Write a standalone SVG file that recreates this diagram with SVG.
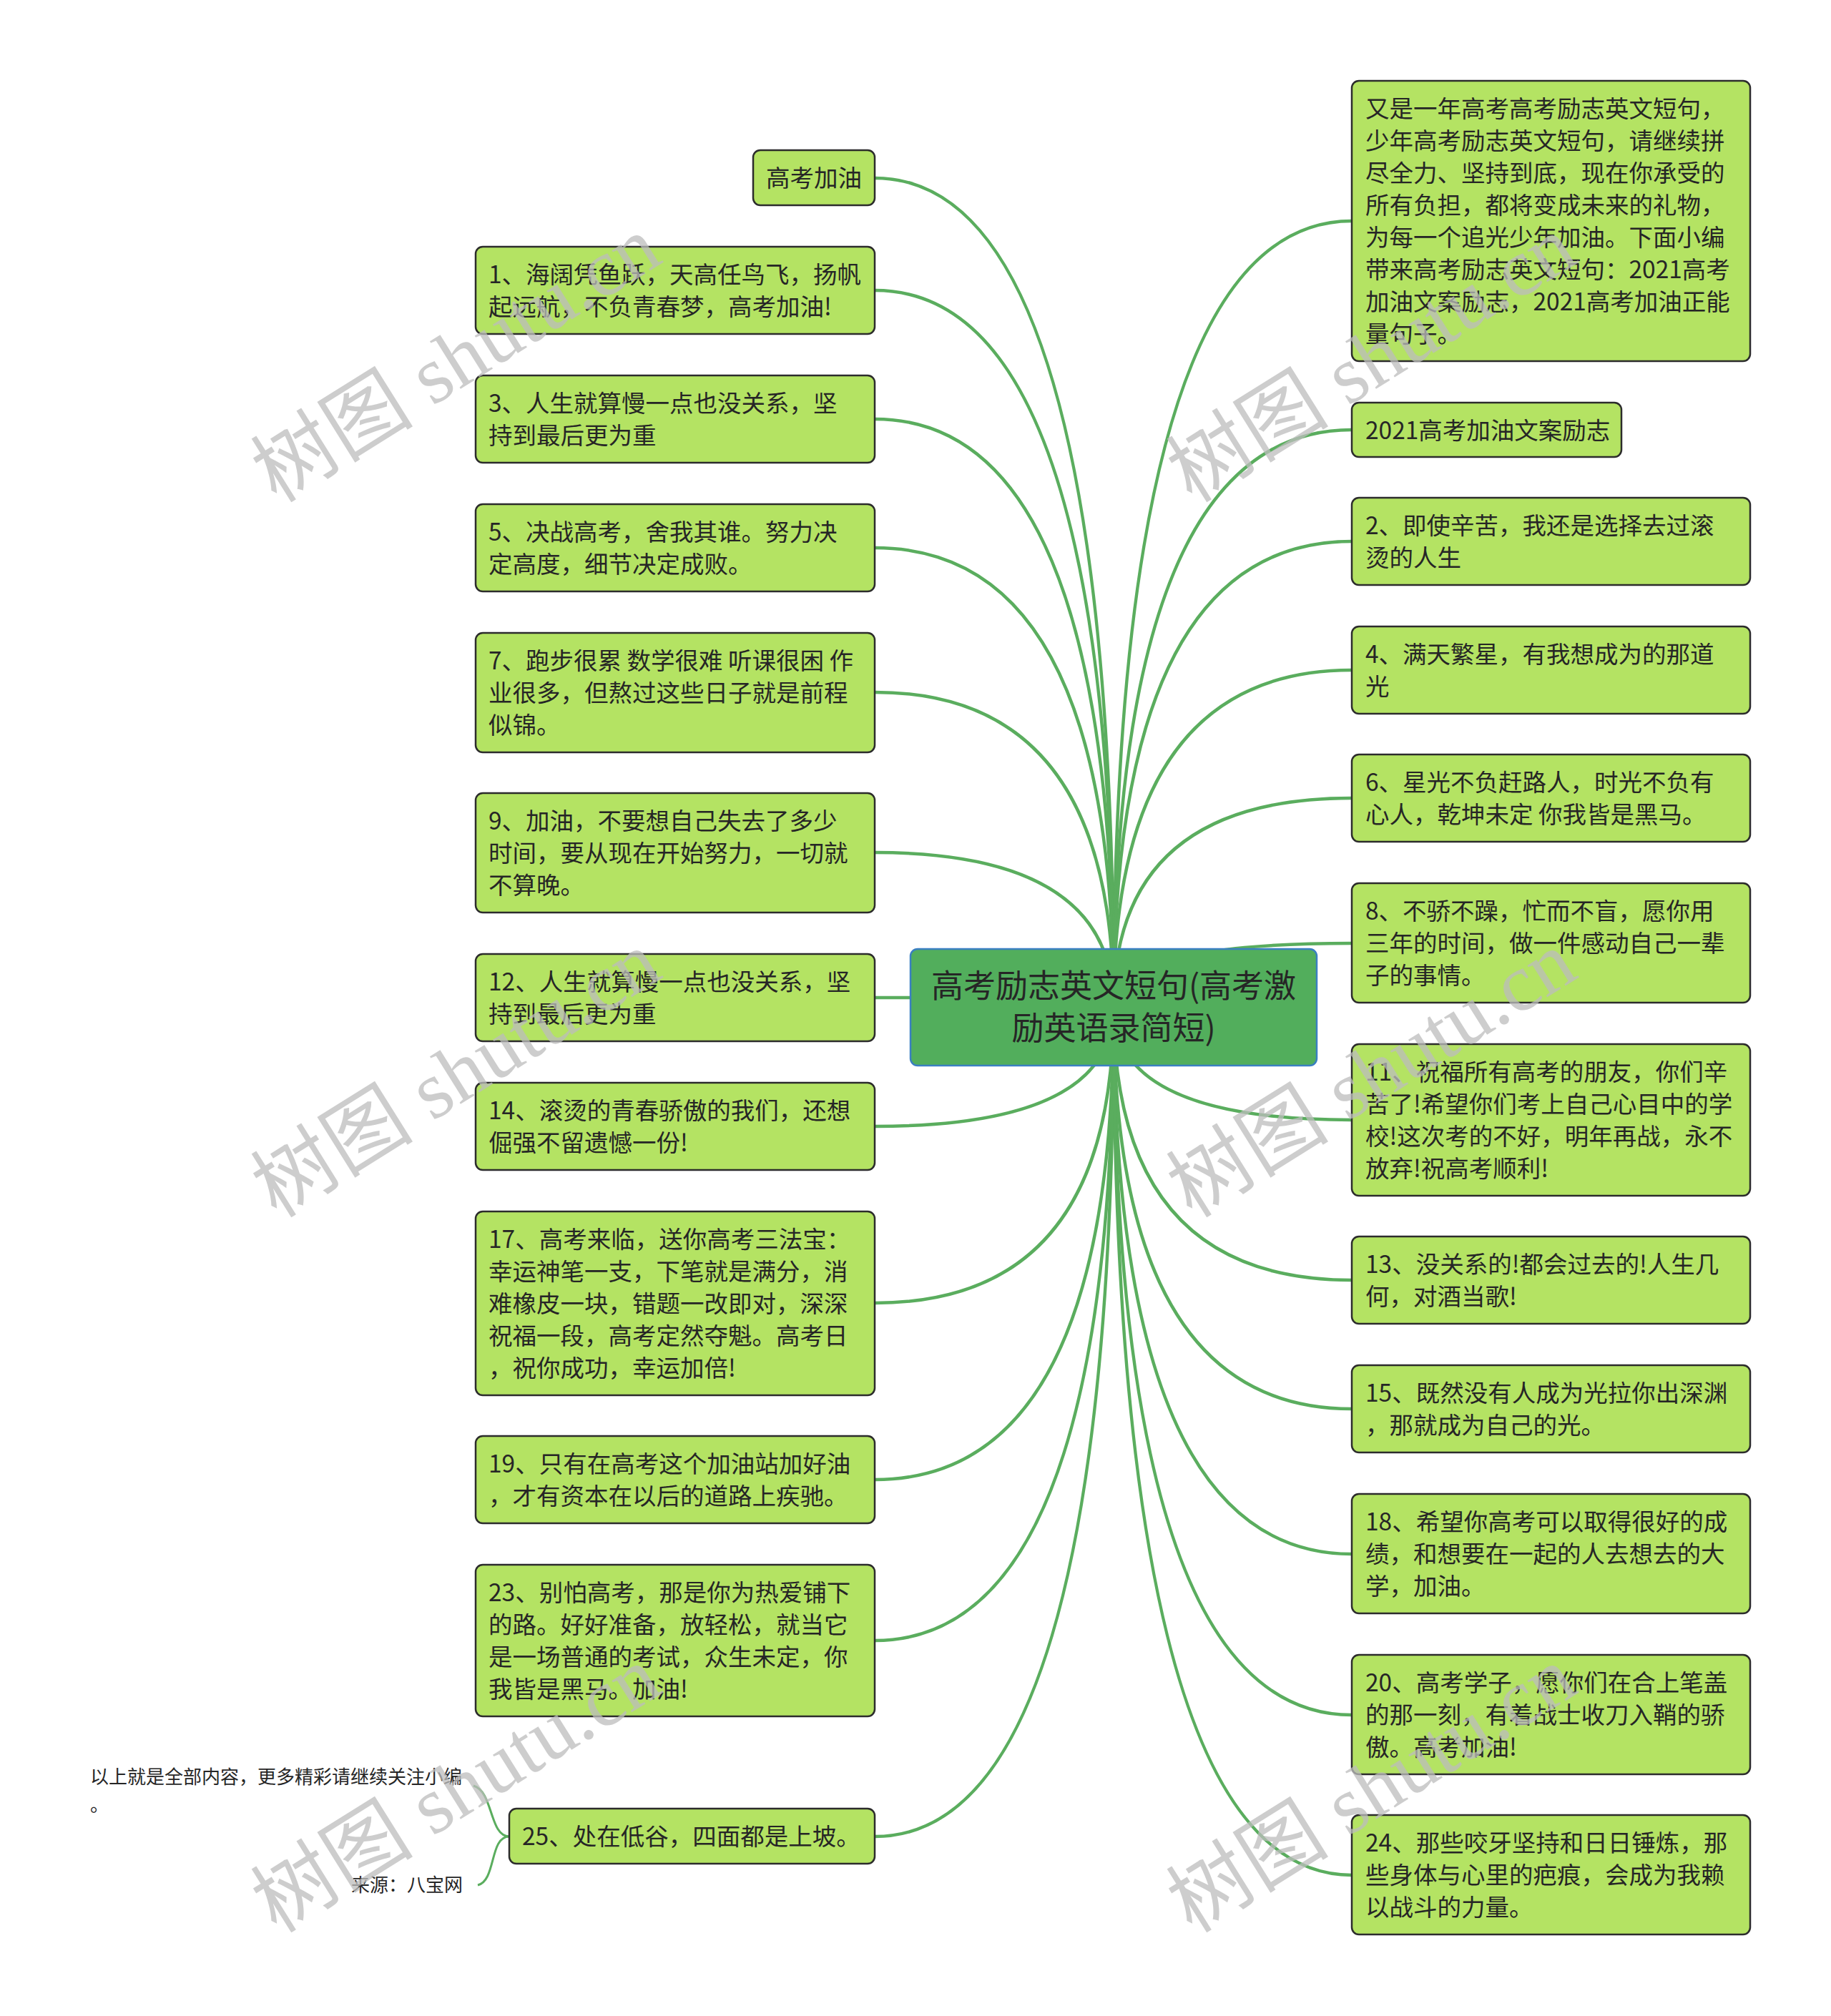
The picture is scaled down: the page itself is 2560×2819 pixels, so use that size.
<svg xmlns="http://www.w3.org/2000/svg" width="2560" height="2819" viewBox="0 0 2560 2819">
<style>
.n{fill:#b4e363;stroke:#2c2c2c;stroke-width:2.5}
.c{fill:#52ae5c;stroke:#3a7fc1;stroke-width:2.5}
.t{font-family:"Noto Sans CJK SC","Noto Sans",sans-serif;font-size:33.5px;fill:#262626}
.ct{font-family:"Noto Sans CJK SC","Noto Sans",sans-serif;font-size:45px;fill:#262626;text-anchor:middle}
.s{font-family:"Noto Sans CJK SC","Noto Sans",sans-serif;font-size:26px;fill:#262626}
.e{fill:none;stroke:#5aad5e;stroke-width:4.5}
.b{fill:none;stroke:#5aad5e;stroke-width:3}
.w{font-family:"Liberation Serif","Noto Sans CJK SC",serif;font-size:114px;fill:#bdbdbd;opacity:0.75;text-anchor:middle}
</style>
<rect width="2560" height="2819" fill="#ffffff"/>
<g id="connectors">
<path class="e" d="M1557,1408 Q1557,249 1223,249"/>
<path class="e" d="M1557,1408 Q1557,406 1223,406"/>
<path class="e" d="M1557,1408 Q1557,586 1223,586"/>
<path class="e" d="M1557,1408 Q1557,766 1223,766"/>
<path class="e" d="M1557,1408 Q1557,968 1223,968"/>
<path class="e" d="M1557,1408 Q1557,1192 1223,1192"/>
<path class="e" d="M1557,1408 Q1557,1395 1223,1395"/>
<path class="e" d="M1557,1408 Q1557,1575 1223,1575"/>
<path class="e" d="M1557,1408 Q1557,1822 1223,1822"/>
<path class="e" d="M1557,1408 Q1557,2069 1223,2069"/>
<path class="e" d="M1557,1408 Q1557,2294 1223,2294"/>
<path class="e" d="M1557,1408 Q1557,2568 1223,2568"/>
<path class="e" d="M1557,1408 Q1557,309 1890,309"/>
<path class="e" d="M1557,1408 Q1557,601 1890,601"/>
<path class="e" d="M1557,1408 Q1557,757 1890,757"/>
<path class="e" d="M1557,1408 Q1557,937 1890,937"/>
<path class="e" d="M1557,1408 Q1557,1116 1890,1116"/>
<path class="e" d="M1557,1408 Q1557,1319 1890,1319"/>
<path class="e" d="M1557,1408 Q1557,1566 1890,1566"/>
<path class="e" d="M1557,1408 Q1557,1790 1890,1790"/>
<path class="e" d="M1557,1408 Q1557,1970 1890,1970"/>
<path class="e" d="M1557,1408 Q1557,2173 1890,2173"/>
<path class="e" d="M1557,1408 Q1557,2398 1890,2398"/>
<path class="e" d="M1557,1408 Q1557,2622 1890,2622"/>
<path class="b" d="M712,2568 C684,2568 690,2505 662,2497"/>
<path class="b" d="M712,2568 C684,2568 694,2630 668,2636"/>
</g>
<g id="center">
<rect class="c" x="1273" y="1327" width="568" height="163" rx="10"/>
<text class="ct" x="1557" y="1395">高考励志英文短句(高考激</text>
<text class="ct" x="1557" y="1454">励英语录简短)</text>
</g>
<g id="n-gkjy"><rect class="n" x="1053" y="210" width="170" height="77" rx="10"/><text class="t" x="1071" y="261">高考加油</text></g>
<g id="n1"><rect class="n" x="665" y="345" width="558" height="122" rx="10"/><text class="t" x="683" y="396">1、海阔凭鱼跃，天高任鸟飞，扬帆</text><text class="t" x="683" y="441">起远航，不负青春梦，高考加油!</text></g>
<g id="n3"><rect class="n" x="665" y="525" width="558" height="122" rx="10"/><text class="t" x="683" y="576">3、人生就算慢一点也没关系，坚</text><text class="t" x="683" y="621">持到最后更为重</text></g>
<g id="n5"><rect class="n" x="665" y="705" width="558" height="122" rx="10"/><text class="t" x="683" y="756">5、决战高考，舍我其谁。努力决</text><text class="t" x="683" y="801">定高度，细节决定成败。</text></g>
<g id="n7"><rect class="n" x="665" y="885" width="558" height="167" rx="10"/><text class="t" x="683" y="936">7、跑步很累 数学很难 听课很困 作</text><text class="t" x="683" y="981">业很多，但熬过这些日子就是前程</text><text class="t" x="683" y="1026">似锦。</text></g>
<g id="n9"><rect class="n" x="665" y="1109" width="558" height="167" rx="10"/><text class="t" x="683" y="1160">9、加油，不要想自己失去了多少</text><text class="t" x="683" y="1205">时间，要从现在开始努力，一切就</text><text class="t" x="683" y="1250">不算晚。</text></g>
<g id="n12"><rect class="n" x="665" y="1334" width="558" height="122" rx="10"/><text class="t" x="683" y="1385">12、人生就算慢一点也没关系，坚</text><text class="t" x="683" y="1430">持到最后更为重</text></g>
<g id="n14"><rect class="n" x="665" y="1514" width="558" height="122" rx="10"/><text class="t" x="683" y="1565">14、滚烫的青春骄傲的我们，还想</text><text class="t" x="683" y="1610">倔强不留遗憾一份!</text></g>
<g id="n17"><rect class="n" x="665" y="1694" width="558" height="257" rx="10"/><text class="t" x="683" y="1745">17、高考来临，送你高考三法宝：</text><text class="t" x="683" y="1790">幸运神笔一支，下笔就是满分，消</text><text class="t" x="683" y="1835">难橡皮一块，错题一改即对，深深</text><text class="t" x="683" y="1880">祝福一段，高考定然夺魁。高考日</text><text class="t" x="683" y="1925">，祝你成功，幸运加倍!</text></g>
<g id="n19"><rect class="n" x="665" y="2008" width="558" height="122" rx="10"/><text class="t" x="683" y="2059">19、只有在高考这个加油站加好油</text><text class="t" x="683" y="2104">，才有资本在以后的道路上疾驰。</text></g>
<g id="n23"><rect class="n" x="665" y="2188" width="558" height="212" rx="10"/><text class="t" x="683" y="2239">23、别怕高考，那是你为热爱铺下</text><text class="t" x="683" y="2284">的路。好好准备，放轻松，就当它</text><text class="t" x="683" y="2329">是一场普通的考试，众生未定，你</text><text class="t" x="683" y="2374">我皆是黑马。加油!</text></g>
<g id="n25"><rect class="n" x="712" y="2529" width="511" height="77" rx="10"/><text class="t" x="730" y="2580">25、处在低谷，四面都是上坡。</text></g>
<g id="note1"><text class="s" x="126" y="2494">以上就是全部内容，更多精彩请继续关注小编</text><text class="s" x="126" y="2533">。</text></g>
<g id="note2"><text class="s" x="647" y="2645" text-anchor="end">来源：八宝网</text></g>
<g id="intro"><rect class="n" x="1890" y="113" width="557" height="392" rx="10"/><text class="t" x="1909" y="164">又是一年高考高考励志英文短句，</text><text class="t" x="1909" y="209">少年高考励志英文短句，请继续拼</text><text class="t" x="1909" y="254">尽全力、坚持到底，现在你承受的</text><text class="t" x="1909" y="299">所有负担，都将变成未来的礼物，</text><text class="t" x="1909" y="344">为每一个追光少年加油。下面小编</text><text class="t" x="1909" y="389">带来高考励志英文短句：2021高考</text><text class="t" x="1909" y="434">加油文案励志，2021高考加油正能</text><text class="t" x="1909" y="479">量句子。</text></g>
<g id="r2021"><rect class="n" x="1890" y="563" width="377" height="76" rx="10"/><text class="t" x="1909" y="614">2021高考加油文案励志</text></g>
<g id="n2"><rect class="n" x="1890" y="696" width="557" height="122" rx="10"/><text class="t" x="1909" y="747">2、即使辛苦，我还是选择去过滚</text><text class="t" x="1909" y="792">烫的人生</text></g>
<g id="n4"><rect class="n" x="1890" y="876" width="557" height="122" rx="10"/><text class="t" x="1909" y="927">4、满天繁星，有我想成为的那道</text><text class="t" x="1909" y="972">光</text></g>
<g id="n6"><rect class="n" x="1890" y="1055" width="557" height="122" rx="10"/><text class="t" x="1909" y="1106">6、星光不负赶路人，时光不负有</text><text class="t" x="1909" y="1151">心人，乾坤未定 你我皆是黑马。</text></g>
<g id="n8"><rect class="n" x="1890" y="1235" width="557" height="167" rx="10"/><text class="t" x="1909" y="1286">8、不骄不躁，忙而不盲，愿你用</text><text class="t" x="1909" y="1331">三年的时间，做一件感动自己一辈</text><text class="t" x="1909" y="1376">子的事情。</text></g>
<g id="n11"><rect class="n" x="1890" y="1460" width="557" height="212" rx="10"/><text class="t" x="1909" y="1511">11、祝福所有高考的朋友，你们辛</text><text class="t" x="1909" y="1556">苦了!希望你们考上自己心目中的学</text><text class="t" x="1909" y="1601">校!这次考的不好，明年再战，永不</text><text class="t" x="1909" y="1646">放弃!祝高考顺利!</text></g>
<g id="n13"><rect class="n" x="1890" y="1729" width="557" height="122" rx="10"/><text class="t" x="1909" y="1780">13、没关系的!都会过去的!人生几</text><text class="t" x="1909" y="1825">何，对酒当歌!</text></g>
<g id="n15"><rect class="n" x="1890" y="1909" width="557" height="122" rx="10"/><text class="t" x="1909" y="1960">15、既然没有人成为光拉你出深渊</text><text class="t" x="1909" y="2005">，那就成为自己的光。</text></g>
<g id="n18"><rect class="n" x="1890" y="2089" width="557" height="167" rx="10"/><text class="t" x="1909" y="2140">18、希望你高考可以取得很好的成</text><text class="t" x="1909" y="2185">绩，和想要在一起的人去想去的大</text><text class="t" x="1909" y="2230">学，加油。</text></g>
<g id="n20"><rect class="n" x="1890" y="2314" width="557" height="167" rx="10"/><text class="t" x="1909" y="2365">20、高考学子，愿你们在合上笔盖</text><text class="t" x="1909" y="2410">的那一刻，有着战士收刀入鞘的骄</text><text class="t" x="1909" y="2455">傲。高考加油!</text></g>
<g id="n24"><rect class="n" x="1890" y="2538" width="557" height="167" rx="10"/><text class="t" x="1909" y="2589">24、那些咬牙坚持和日日锤炼，那</text><text class="t" x="1909" y="2634">些身体与心里的疤痕，会成为我赖</text><text class="t" x="1909" y="2679">以战斗的力量。</text></g>
<g id="watermarks">
<text class="w" transform="translate(658,535) rotate(-32)">树图 shutu.cn</text>
<text class="w" transform="translate(658,1535) rotate(-32)">树图 shutu.cn</text>
<text class="w" transform="translate(658,2535) rotate(-32)">树图 shutu.cn</text>
<text class="w" transform="translate(1938,535) rotate(-32)">树图 shutu.cn</text>
<text class="w" transform="translate(1938,1535) rotate(-32)">树图 shutu.cn</text>
<text class="w" transform="translate(1938,2535) rotate(-32)">树图 shutu.cn</text>
</g>
</svg>
